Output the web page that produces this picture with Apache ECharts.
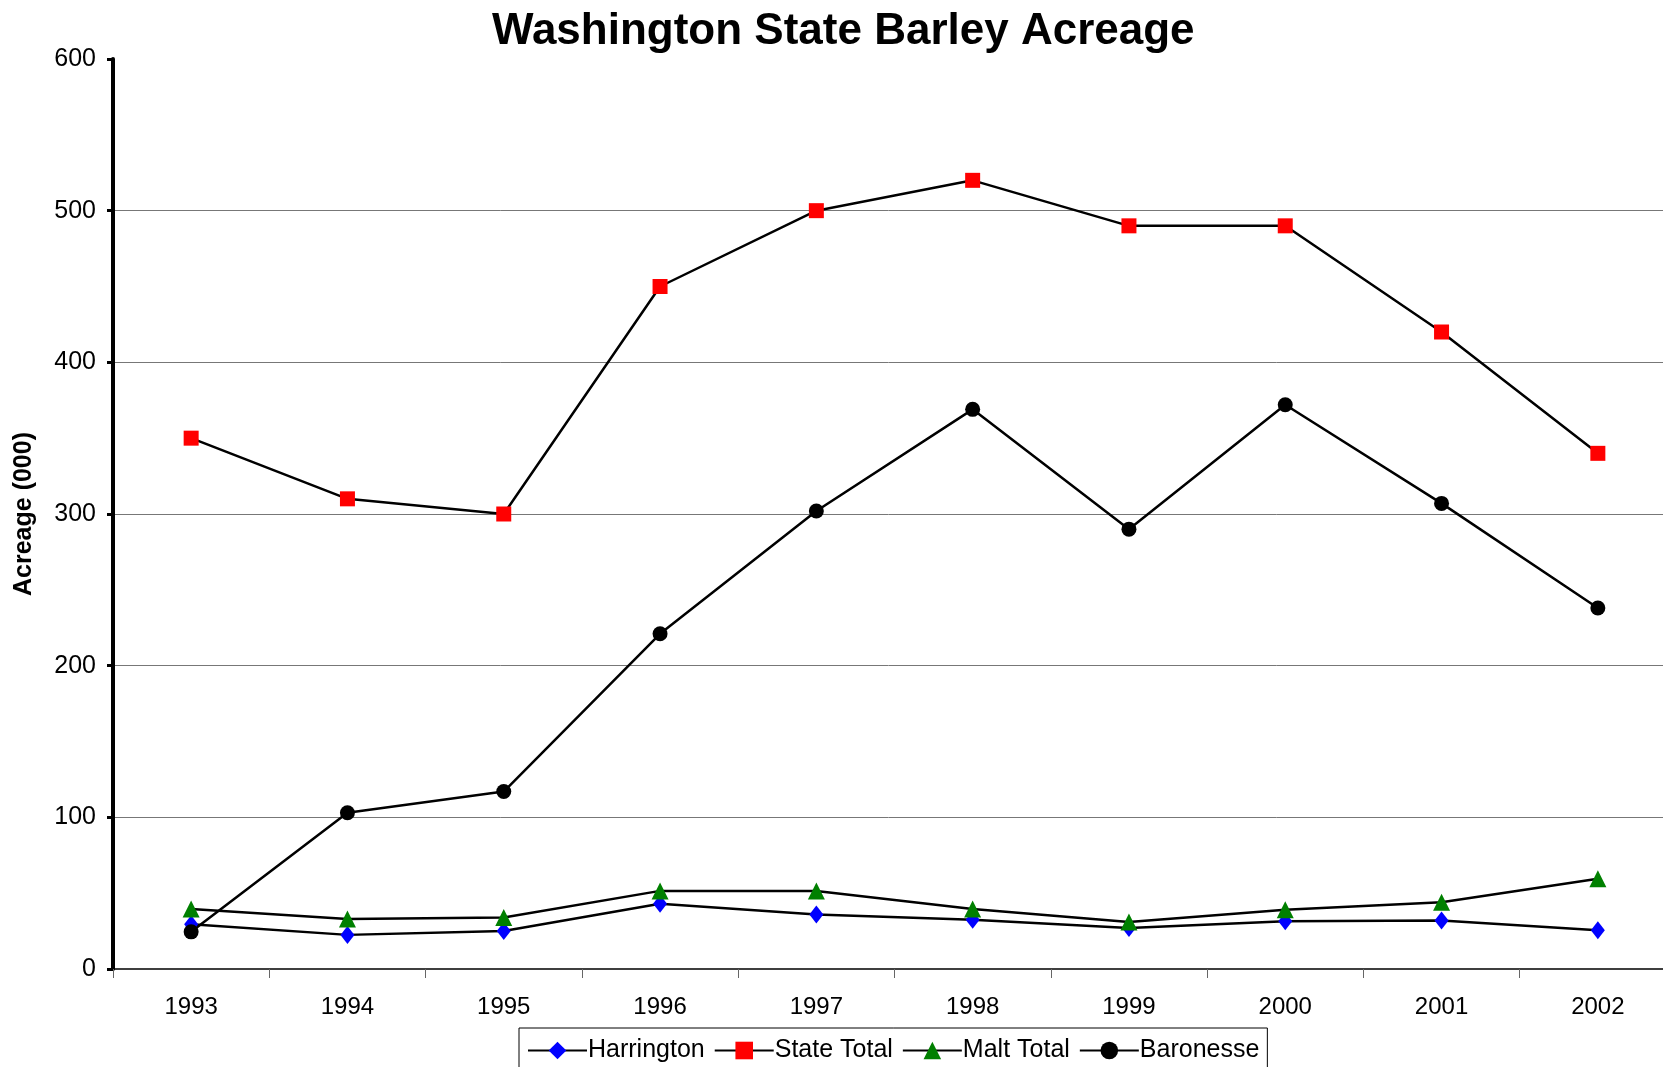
<!DOCTYPE html>
<html>
<head>
<meta charset="utf-8">
<title>Washington State Barley Acreage</title>
<script src="https://cdn.jsdelivr.net/npm/echarts@6/dist/echarts.min.js"></script>
<style>
  html, body { margin: 0; padding: 0; background: #fff; }
  #chart { width: 1663px; height: 1067px; }
</style>
</head>
<body>
<div id="chart"></div>
<script>
// data (thousands of acres)
var years = ['1993', '1994', '1995', '1996', '1997', '1998', '1999', '2000', '2001', '2002'];
var harrington = [29.5, 22.5, 25, 43, 36, 32.5, 27, 31.5, 32, 25.5];
var stateTotal = [350, 310, 300, 450, 500, 520, 490, 490, 420, 340];
var maltTotal = [39.5, 33, 34, 51.5, 51.5, 39.5, 31, 39, 44, 59.5];
var baronesse = [24.5, 103, 117, 221, 302, 369, 290, 372, 307, 238];

var chart = echarts.init(document.getElementById('chart'));

// common look of every line
function lineSeries(name, data, symbol, size, color) {
    return {
        name: name,
        type: 'line',
        data: data,
        symbol: symbol,
        symbolSize: size,
        showAllSymbol: true,
        animation: false,
        itemStyle: { color: color, borderWidth: 0 },
        lineStyle: { color: '#000', width: 2.5 }
    };
}

chart.setOption({
    backgroundColor: '#fff',
    textStyle: { fontFamily: 'Liberation Sans, Arial, sans-serif' },
    title: {
        text: 'Washington State Barley Acreage',
        left: 487,
        top: 5,
        textStyle: { fontSize: 44, fontWeight: 'bold', color: '#000' }
    },
    legend: {
        top: 1028,
        left: 519,
        itemGap: 9,
        itemWidth: 59,
        itemHeight: 22,
        padding: [10, 8, 12, 8],
        borderColor: '#000',
        borderWidth: 1,
        textStyle: { fontSize: 25, color: '#000', padding: [0, 0, 0, -4] },
        data: ['Harrington', 'State Total', 'Malt Total', 'Baronesse']
    },
    grid: {
        left: 113,
        width: 1563,
        top: 59,
        bottom: 98,
        containLabel: false,
        outerBoundsMode: 'none'
    },
    xAxis: {
        type: 'category',
        data: years,
        boundaryGap: true,
        axisLine: { lineStyle: { color: '#000', width: 1.5 } },
        axisTick: { show: true, length: 9, lineStyle: { color: '#666', width: 1 } },
        axisLabel: { fontSize: 24, color: '#000', margin: 26 },
        splitLine: { show: false }
    },
    yAxis: {
        type: 'value',
        min: 0,
        max: 600,
        interval: 100,
        name: 'Acreage (000)',
        nameLocation: 'middle',
        nameGap: 76,
        nameTextStyle: { fontSize: 25, fontWeight: 'bold', color: '#000' },
        axisLine: { show: true, lineStyle: { color: '#000', width: 4 } },
        axisTick: { show: true, length: 6, lineStyle: { color: '#000', width: 3 } },
        axisLabel: { fontSize: 25, color: '#000', margin: 17 },
        splitLine: {
            show: true,
            showMinLine: false,
            showMaxLine: false,
            lineStyle: { color: '#777', width: 1 }
        }
    },
    series: [
        lineSeries('Harrington', harrington, 'diamond', [14, 18], '#0000ff'),
        lineSeries('State Total', stateTotal, 'rect', 15, '#ff0000'),
        lineSeries('Malt Total', maltTotal, 'triangle', 17, '#008000'),
        lineSeries('Baronesse', baronesse, 'circle', 15, '#000000')
    ]
});
</script>
</body>
</html>
